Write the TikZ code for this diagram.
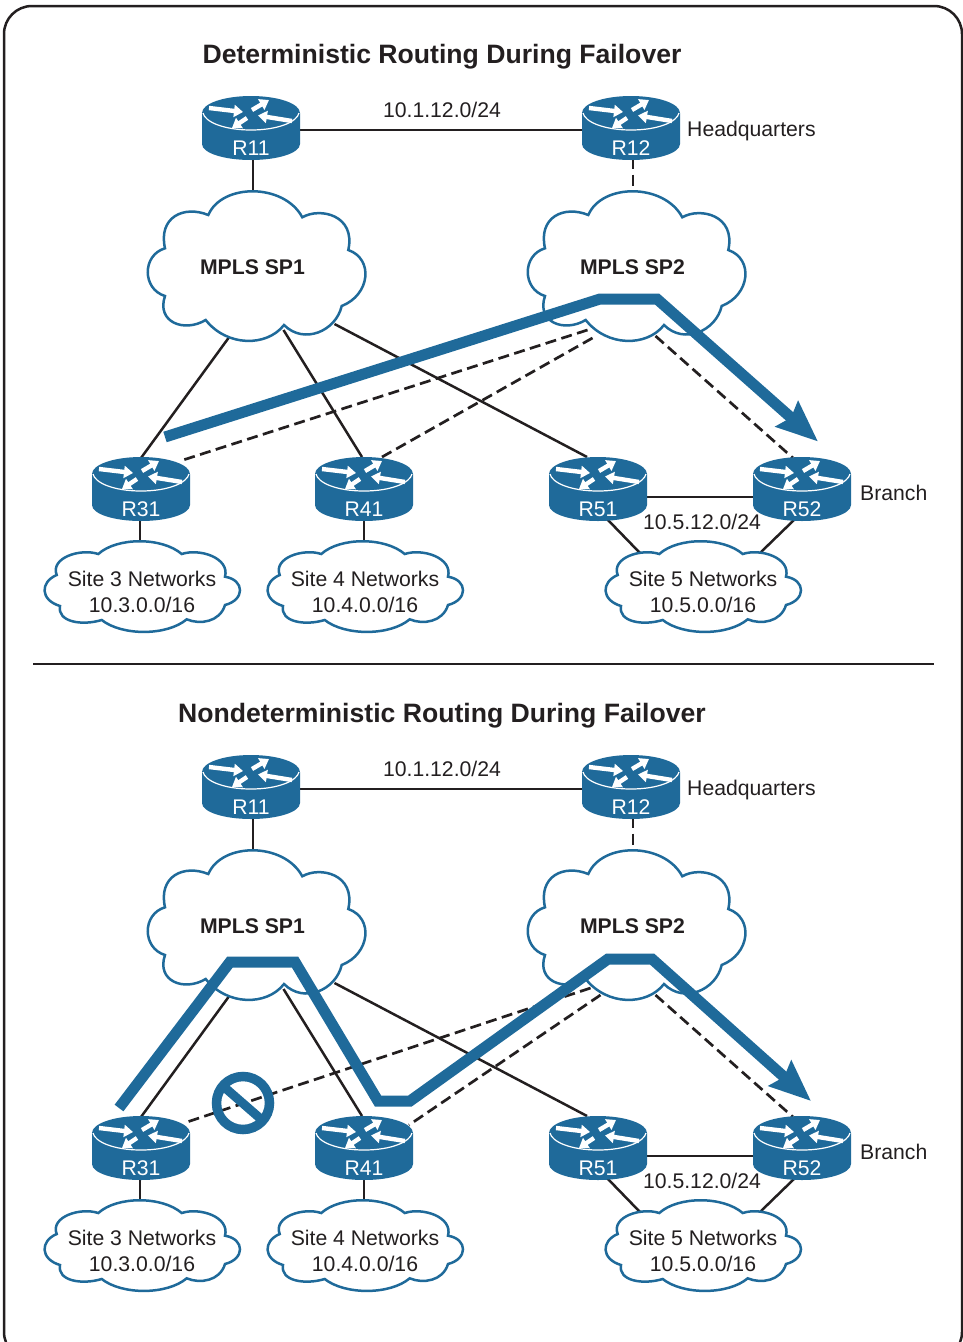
\documentclass[tikz,border=0pt]{standalone}
\usepackage{fontspec}
\setmainfont{Liberation Sans}
\usetikzlibrary{arrows.meta,calc}
\definecolor{ciscoblue}{HTML}{1F6A9A}
\definecolor{inkblack}{HTML}{231F20}
\pgfdeclarelayer{back}
\pgfsetlayers{back,main}
\tikzset{
  solidlink/.style={draw=inkblack,line width=2.5pt},
  dashlink/.style={draw=inkblack,line width=2.7pt,dash pattern=on 11pt off 5.5pt},
  flowpath/.style={draw=ciscoblue,line width=11pt,miter limit=10,-{Stealth[length=41pt,width=33pt,inset=5pt]}},
  plaintext/.style={font=\fontsize{21.2}{26}\selectfont,text=inkblack,inner sep=0pt,align=center},
  boldtext/.style={font=\fontsize{21.2}{26}\selectfont\bfseries,text=inkblack,inner sep=0pt},
  titletext/.style={font=\fontsize{26.6}{30}\selectfont\bfseries,text=inkblack,inner sep=0pt},
  routerlabel/.style={font=\fontsize{21.2}{26}\selectfont,text=white,inner sep=0pt},
  routerarrow/.style={draw=white,line width=4.4pt,-{Triangle[length=9pt,width=12pt]}},
  routerpic/.pic={
    \fill[ciscoblue] (-49,-15) .. controls (-49,-24.5) and (-27,-32) .. (0,-32)
       .. controls (27,-32) and (49,-24.5) .. (49,-15) -- (49,16)
       .. controls (49,25) and (27,32) .. (0,32)
       .. controls (-27,32) and (-49,25) .. (-49,16) -- cycle;
    \draw[white,line width=1.2pt] (-48,-15) .. controls (-46,-6) and (-27,2) .. (0,2)
       .. controls (27,2) and (46,-6) .. (48,-15);
    \draw[routerarrow] (-42,-20) -- (-8,-16);
    \draw[routerarrow] (1,-18) -- (18,-28);
    \draw[routerarrow] (41,-7) -- (7,-12.5);
    \draw[routerarrow] (-4,-10) -- (-19,0);
  },
  bigcloud/.pic={
    \draw[draw=ciscoblue,fill=white,line width=2.5pt,line join=miter]
      (-43.7,-52) .. controls (-30,-84) and (32,-84) .. (50.3,-49.7)
      .. controls (68,-60) and (104,-52) .. (96.3,-17)
      .. controls (122,-8) and (118,28) .. (89.7,39)
      .. controls (84,64) and (52,78) .. (32,58)
      .. controls (15,80) and (-25,80) .. (-46.3,53)
      .. controls (-68,66) and (-96,55) .. (-87,29)
      .. controls (-110,22) and (-110,-12) .. (-87,-18.7)
      .. controls (-94,-50) and (-68,-62) .. cycle;
  },
  smallcloud/.pic={
    \draw[draw=ciscoblue,fill=white,line width=2.5pt]
      (-43.7,-38) .. controls (-25,-55) and (20,-55) .. (39.7,-38)
      .. controls (58,-44) and (88,-34) .. (83,-15.3)
      .. controls (103,-12) and (103,8) .. (83,13)
      .. controls (78,30) and (58,33) .. (44.7,27.3)
      .. controls (25,44) and (-20,44) .. (-40.3,28)
      .. controls (-60,34) and (-85,30) .. (-82,14)
      .. controls (-102,8) and (-102,-10) .. (-85.3,-17)
      .. controls (-92,-34) and (-62,-44) .. cycle;
  }
}
\newcommand{\routernode}[4]{% node name, x, y, label
  \pic at (#2,#3) {routerpic};
  \node[routerlabel] (#1) at (#2,#3+20) {#4};
}
% prefix, offset, SP2->R31 offset, R31 offset, SP2->R41 offset, R41 offset
\newcommand{\panelnet}[6]{%
 \begin{scope}[shift={(0,#2)}]
  \routernode{#1R11}{251}{128}{R11}
  \routernode{#1R12}{631}{128}{R12}
  \routernode{#1R31}{141}{489}{R31}
  \routernode{#1R41}{364}{489}{R41}
  \routernode{#1R51}{598}{489}{R51}
  \routernode{#1R52}{802}{489}{R52}
  \pic at (252,267) {bigcloud};
  \pic at (632,267) {bigcloud};
  \node[boldtext] (#1SP1) at (252.5,267) {MPLS SP1};
  \node[boldtext] (#1SP2) at (632.5,267) {MPLS SP2};
  \pic at (142,592) {smallcloud};
  \pic at (365,592) {smallcloud};
  \pic at (703,592) {smallcloud};
  \node[plaintext] (#1S3) at (142,592) {Site 3 Networks\\10.3.0.0/16};
  \node[plaintext] (#1S4) at (365,592) {Site 4 Networks\\10.4.0.0/16};
  \node[plaintext] (#1S5) at (703,592) {Site 5 Networks\\10.5.0.0/16};
  \node[plaintext] (#1hq) at (442,110) {10.1.12.0/24};
  \node[plaintext,anchor=west] (#1hqt) at (687,131.5) {Headquarters};
  \node[plaintext,anchor=west] (#1br) at (860,493) {Branch};
  \node[plaintext] (#1bn) at (702,522) {10.5.12.0/24};
  \begin{pgfonlayer}{back}
   \draw[solidlink] ($(#1R11)+(49,-18)$) -- ($(#1R12)+(-49,-18)$);
   \draw[solidlink] ($(#1R11)+(2,10)$) -- ($(#1SP1)+(0.5,-76)$);
   \draw[dashlink]  ($(#1R12)+(2,10)$) -- ($(#1SP2)+(0.5,-76)$);
   \draw[solidlink] ($(#1SP1)+(-24,71)$) -- ($(#1R31)+(0,-51)$);
   \draw[solidlink] ($(#1SP1)+(31,63)$) -- ($(#1R41)+(-2,-52)$);
   \draw[solidlink] ($(#1SP1)+(82,57)$) -- ($(#1R51)+(-11,-52)$);
   \draw[dashlink]  ($(#1SP2)+(#3)$) -- ($(#1R31)+(#4)$);
   \draw[dashlink]  ($(#1SP2)+(#5)$) -- ($(#1R41)+(#6)$);
   \draw[dashlink]  ($(#1SP2)+(23,69)$) -- ($(#1R52)+(-9,-51)$);
   \draw[solidlink] ($(#1R51)+(49,-12)$) -- ($(#1R52)+(-49,-12)$);
   \draw[solidlink] ($(#1R31)+(-1,10)$) -- ($(#1S3)+(-2,-50)$);
   \draw[solidlink] ($(#1R41)+(0,10)$) -- ($(#1S4)+(-1,-50)$);
   \draw[solidlink] ($(#1R51)+(9,10)$) -- ($(#1S5)+(-63,-39)$);
   \draw[solidlink] ($(#1R52)+(-7,10)$) -- ($(#1S5)+(57,-39)$);
  \end{pgfonlayer}
 \end{scope}
}
\begin{document}
\begin{tikzpicture}[x=1pt,y=-1pt]
 \useasboundingbox (0,0) rectangle (963,1342);
 \draw[draw=inkblack,line width=2.5pt,rounded corners=28pt] (4,6) rectangle (962,1360);
 \node[titletext] (title1) at (442,57) {Deterministic Routing During Failover};
 \node[titletext] (title2) at (442,716) {Nondeterministic Routing During Failover};
 \coordinate (divl) at (33,664);
 \coordinate (divr) at (934,664);
 \draw[solidlink] (divl) -- (divr);
 \panelnet{a}{0}{-45,63}{39,-48}{-40,71}{18,-52}
 \panelnet{b}{659}{-42,62}{46,-46}{-32,69}{45,-43}
 % failover paths
 \coordinate (f1s) at (165,437);
 \coordinate (f1e) at (818,441.5);
 \draw[flowpath] (f1s) -- (600,299) -- (657,299) -- (f1e);
 \coordinate (f2s) at (119,1108);
 \coordinate (f2e) at (811,1101);
 \draw[flowpath] (f2s) -- (230,962) -- (295,962) -- (378,1101) -- (410,1101) -- (608,959) -- (652,959) -- (f2e);
 % blocked sign
 \draw[draw=ciscoblue,line width=9.5pt] (243,1103) circle (26.5);
 \draw[draw=ciscoblue,line width=9pt] (223,1086) -- (262,1120);
\end{tikzpicture}
\end{document}
